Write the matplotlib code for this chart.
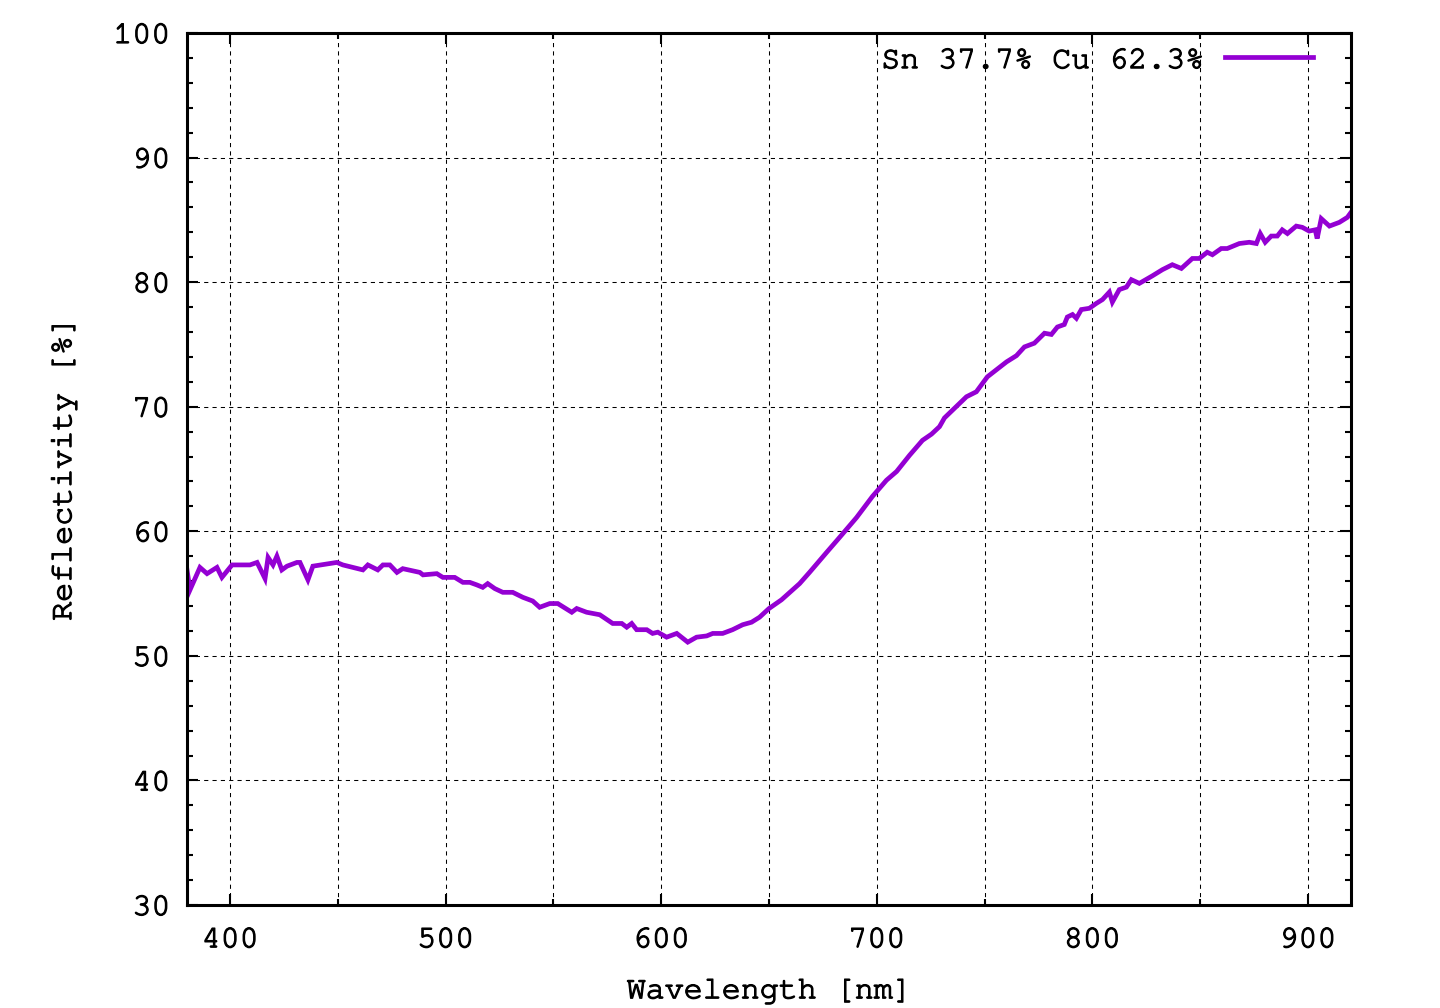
import matplotlib
matplotlib.use("Agg")
import matplotlib.pyplot as plt
import matplotlib.patheffects as pe
from matplotlib.ticker import MultipleLocator
import logging
logging.getLogger("matplotlib.font_manager").setLevel(logging.ERROR)

wavelength = [380.0, 381.4, 386.0, 389.3, 393.9, 396.2, 400.9, 409.2, 412.5, 416.2,
              417.6, 419.9, 421.7, 424.0, 426.4, 431.0, 432.4, 436.1, 438.4, 449.5,
              452.3, 461.6, 463.9, 468.5, 470.9, 474.1, 477.4, 480.1, 488.0, 489.5,
              495.9, 498.7, 504.2, 508.0, 511.2, 514.4, 517.2, 519.5, 522.8, 526.5,
              531.1, 535.8, 540.4, 543.6, 548.3, 552.0, 556.6, 558.5, 560.8, 565.4,
              571.5, 577.5, 581.7, 584.0, 586.3, 588.6, 593.3, 596.0, 598.4, 602.5,
              607.2, 612.3, 616.4, 621.1, 623.9, 628.5, 633.1, 637.8, 641.9, 645.6,
              650.0, 655.8, 664.2, 668.8, 676.7, 682.7, 690.6, 698.0, 704.5, 709.2,
              715.2, 721.2, 725.4, 729.1, 731.4, 741.6, 746.2, 751.3, 760.2, 764.8,
              768.5, 773.1, 777.8, 781.0, 783.8, 787.0, 788.4, 790.8, 792.6, 794.9,
              798.6, 801.9, 804.7, 807.9, 809.3, 812.5, 815.8, 818.1, 821.8, 827.8,
              832.5, 837.1, 841.3, 846.4, 849.6, 853.3, 855.7, 859.8, 862.6, 868.2,
              872.8, 876.1, 877.9, 880.2, 883.0, 885.8, 888.1, 890.5, 894.6, 897.4,
              900.6, 903.4, 904.3, 906.2, 910.0, 914.6, 918.3, 920.0]
reflectivity = [56.9, 55.3, 57.1, 56.6, 57.1, 56.3, 57.3, 57.3, 57.5, 56.2,
                57.9, 57.3, 58.0, 56.9, 57.2, 57.5, 57.5, 56.1, 57.2, 57.5,
                57.3, 56.9, 57.3, 56.9, 57.3, 57.3, 56.7, 57.0, 56.7, 56.5,
                56.6, 56.3, 56.3, 55.9, 55.9, 55.7, 55.5, 55.8, 55.4, 55.1,
                55.1, 54.7, 54.4, 53.9, 54.2, 54.2, 53.7, 53.5, 53.8, 53.5,
                53.3, 52.6, 52.6, 52.3, 52.6, 52.1, 52.1, 51.8, 51.9, 51.5,
                51.8, 51.1, 51.5, 51.6, 51.8, 51.8, 52.1, 52.5, 52.7, 53.1,
                53.8, 54.5, 55.8, 56.7, 58.3, 59.5, 61.1, 62.8, 64.1, 64.8,
                66.1, 67.3, 67.8, 68.4, 69.1, 70.8, 71.2, 72.4, 73.6, 74.1,
                74.8, 75.1, 75.9, 75.8, 76.4, 76.6, 77.2, 77.4, 77.1, 77.8,
                77.9, 78.3, 78.6, 79.2, 78.4, 79.4, 79.6, 80.2, 79.9, 80.5,
                81.0, 81.4, 81.1, 81.9, 81.9, 82.4, 82.2, 82.7, 82.7, 83.1,
                83.2, 83.1, 83.9, 83.2, 83.7, 83.7, 84.2, 83.9, 84.5, 84.4,
                84.1, 84.2, 83.5, 85.1, 84.5, 84.8, 85.2, 85.6]
series_label = "Sn 37.7% Cu 62.3%"
x_label = "Wavelength [nm]"
y_label = "Reflectivity [%]"

FONT = ["Nimbus Mono PS", "Courier New", "FreeMono", "Liberation Mono"]
FS = 22.8
THICK = [pe.withStroke(linewidth=0.9, foreground="black")]

fig = plt.figure(figsize=(14.4, 10.08), dpi=100)
ax = fig.add_axes([187/1440, 1 - 905/1008, (1351 - 187)/1440, (905 - 33)/1008])

ax.plot(wavelength, reflectivity, color="#9400D3", lw=3.4, label=series_label,
        solid_joinstyle="miter")

ax.set_xlim(380, 920)
ax.set_ylim(30, 100)
ax.xaxis.set_major_locator(MultipleLocator(100))
ax.xaxis.set_minor_locator(MultipleLocator(50))
ax.yaxis.set_major_locator(MultipleLocator(10))
ax.yaxis.set_minor_locator(MultipleLocator(2))

ax.grid(True, which="major", axis="both", color="black", lw=0.75, ls=(0, (4, 4)))
ax.grid(True, which="minor", axis="x", color="black", lw=0.75, ls=(0, (4, 4)))

ax.tick_params(which="both", direction="in", top=True, right=True, width=1.5,
               labelsize=FS)
ax.tick_params(axis="x", which="both", pad=16)
ax.tick_params(axis="y", which="both", pad=12)
ax.tick_params(which="major", length=8)
ax.tick_params(which="minor", length=4.5)
for lab in ax.get_xticklabels() + ax.get_yticklabels():
    lab.set_family(FONT)
    lab.set_path_effects(THICK)
for s in ax.spines.values():
    s.set_linewidth(2.2)

xl = ax.set_xlabel(x_label, fontsize=FS, family=FONT, labelpad=18)
yl = ax.set_ylabel(y_label, fontsize=FS, family=FONT, labelpad=26)
xl.set_path_effects(THICK)
yl.set_path_effects(THICK)

leg = ax.legend(loc="center right", frameon=False, markerfirst=False,
                prop={"family": FONT, "size": FS}, handlelength=2.78,
                handletextpad=0.68, borderaxespad=0.0, borderpad=0.0,
                bbox_to_anchor=((1313 - 187) / 1164, 1 - (60 - 33) / 872))
for t in leg.get_texts():
    t.set_path_effects(THICK)

fig.savefig("out.png", dpi=100)
